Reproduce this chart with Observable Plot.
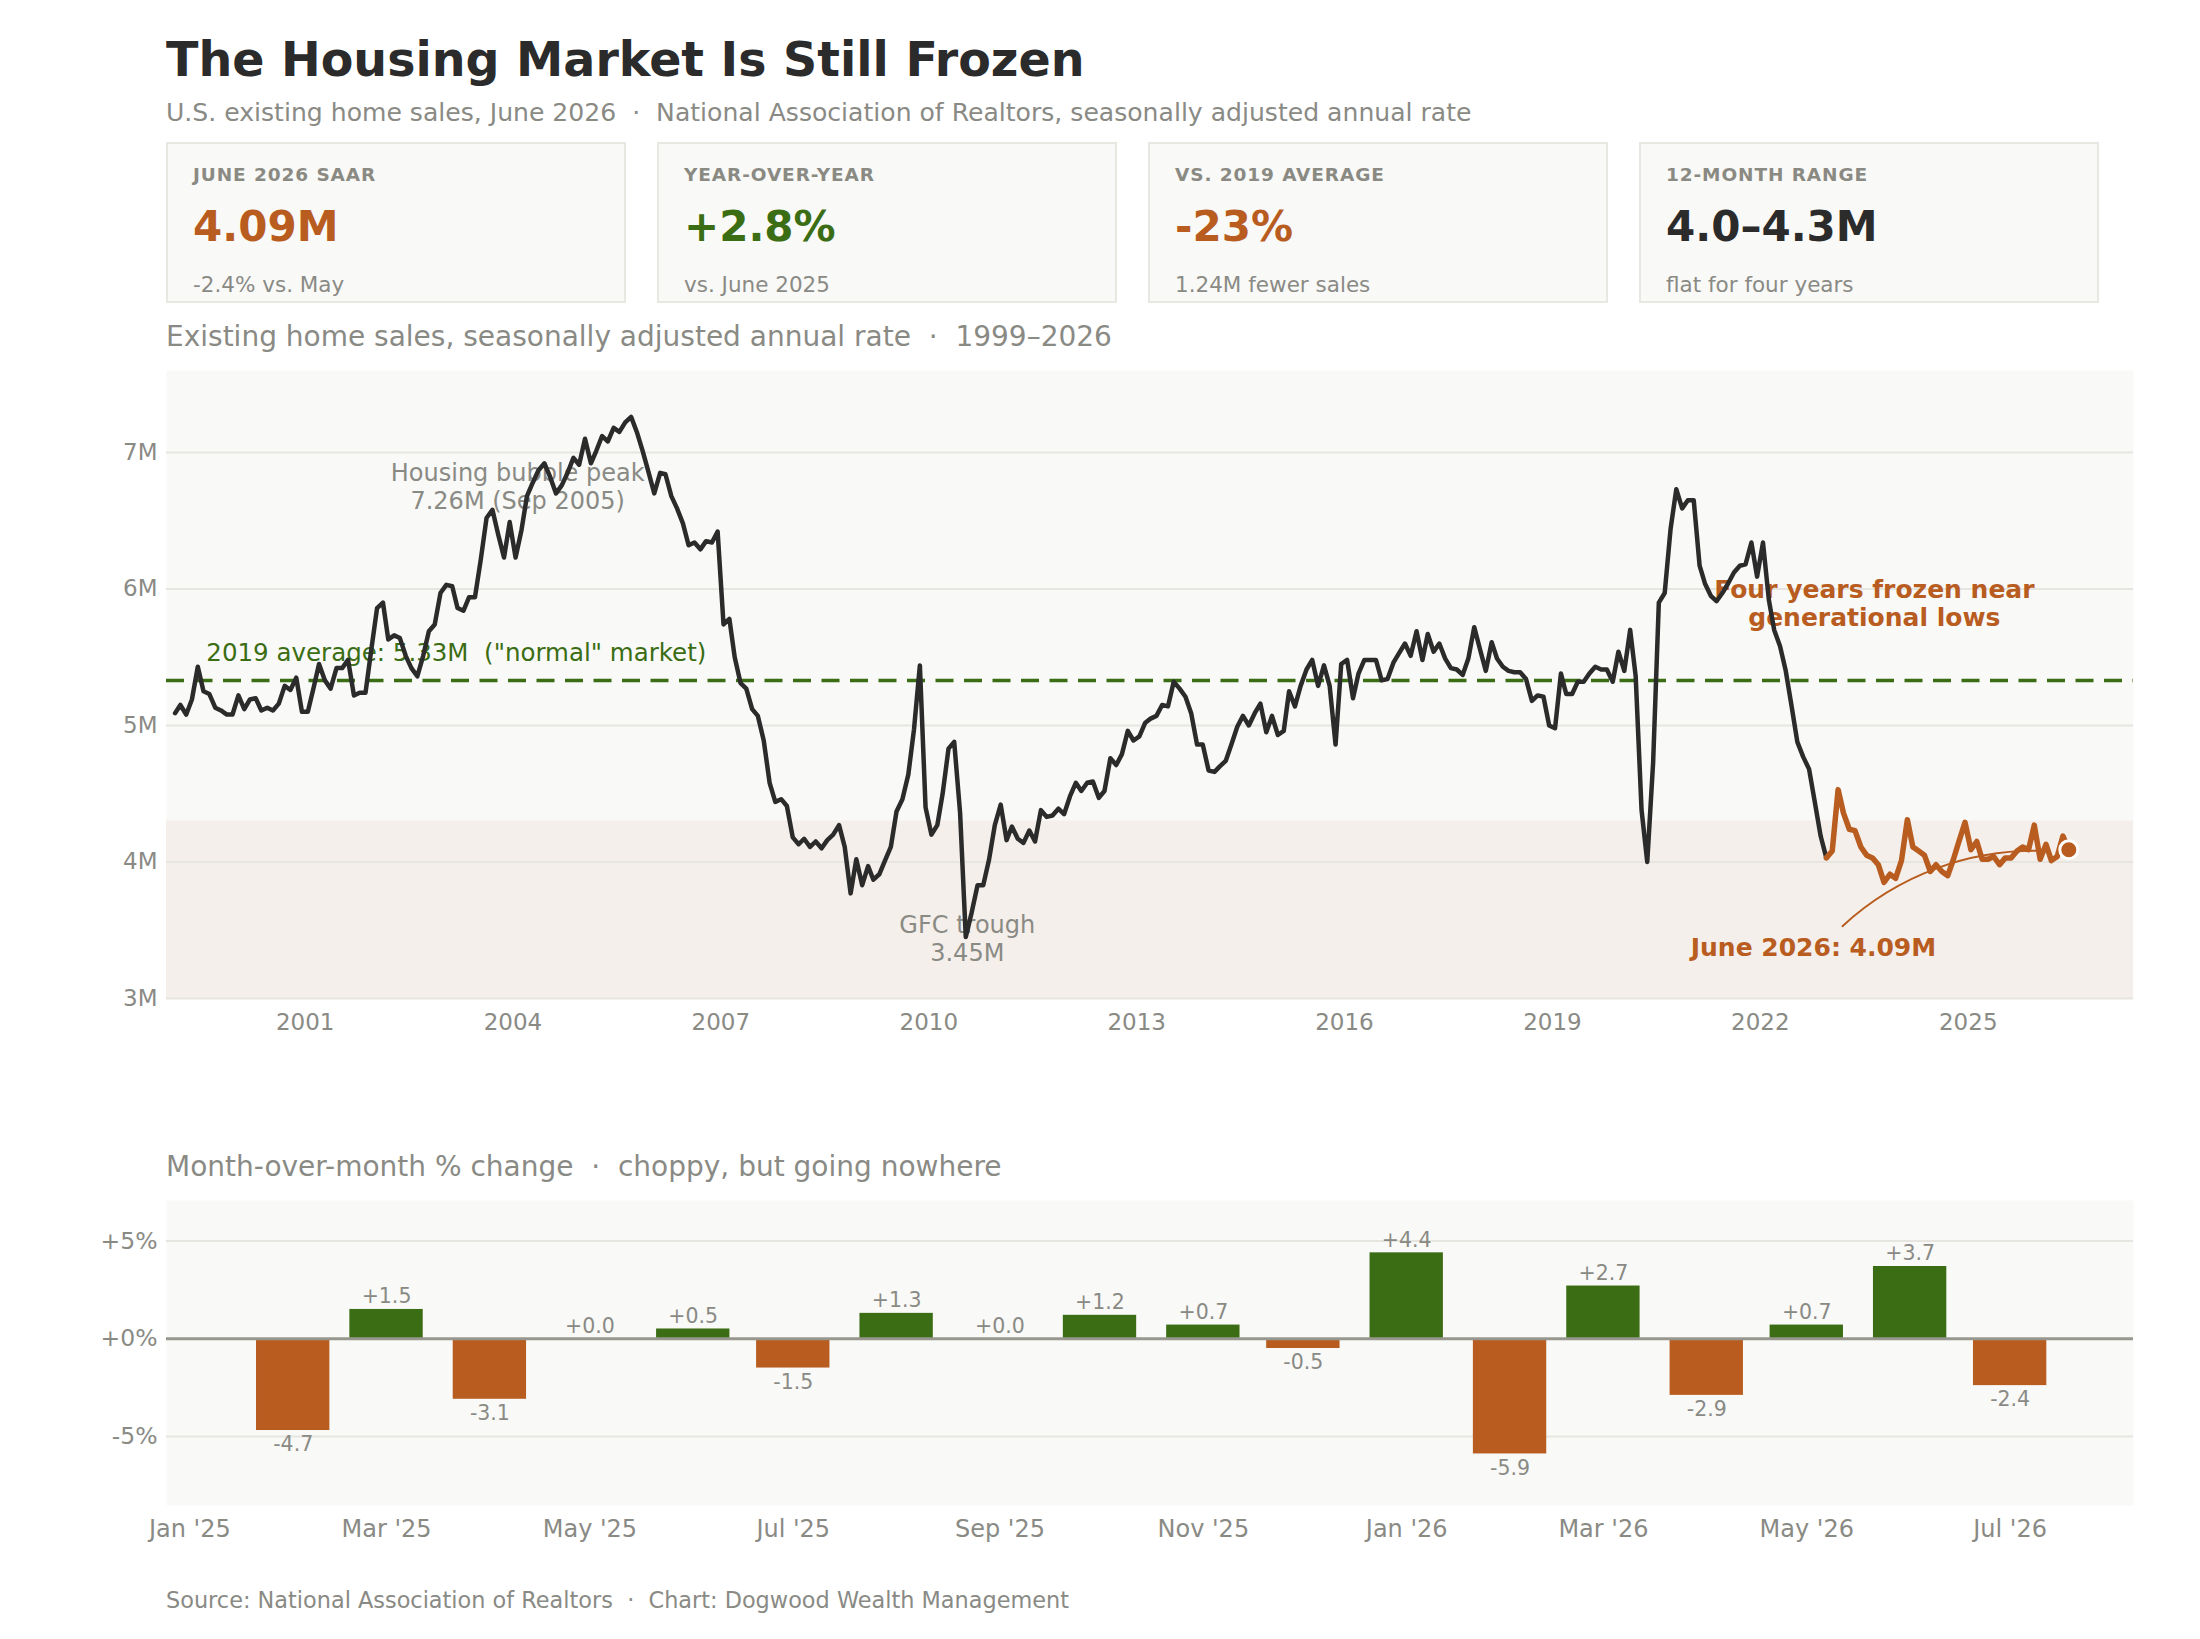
<!DOCTYPE html>
<html>
<head>
<meta charset="utf-8">
<script src="https://cdn.jsdelivr.net/npm/d3@7"></script>
<script src="https://cdn.jsdelivr.net/npm/@observablehq/plot@0.6"></script>
<style>
  html, body { margin: 0; padding: 0; background: #fff; }
  body { width: 2200px; height: 1639px; position: relative; overflow: hidden; font-family: "DejaVu Sans", sans-serif; }
  .abs { position: absolute; white-space: pre; line-height: 1; }
  #title { left: 166px; top: 36px; font-size: 47.5px; font-weight: bold; color: #2b2b2b; }
  #subtitle { left: 166px; top: 100px; font-size: 25.1px; color: #8a8a85; }
  .card { position: absolute; top: 142px; width: 460px; height: 161px; box-sizing: border-box; background: #f9f9f7; border: 2px solid #e8e7e2; }
  .card .lab { position: absolute; left: 25px; top: 22px; font-size: 18.5px; font-weight: bold; color: #8a8a83; letter-spacing: 0.9px; line-height: 1; white-space: pre; }
  .card .val { position: absolute; left: 25px; top: 62px; font-size: 42px; font-weight: bold; line-height: 1; white-space: pre; }
  .card .sub { position: absolute; left: 25px; top: 130px; font-size: 21.5px; color: #8a8a85; line-height: 1; white-space: pre; }
  #sec1 { left: 166px; top: 323px; font-size: 28px; color: #8a8a85; }
  #sec2 { left: 166px; top: 1153px; font-size: 28px; color: #8a8a85; }
  #source { left: 166px; top: 1589px; font-size: 22.4px; color: #8a8a85; }
  #main { position: absolute; left: 0; top: 355px; }
  #bars { position: absolute; left: 0; top: 1190px; }
</style>
</head>
<body>
<div id="title" class="abs"></div>
<div id="subtitle" class="abs"></div>
<div id="cards"></div>
<div id="sec1" class="abs"></div>
<div id="main"></div>
<div id="sec2" class="abs"></div>
<div id="bars"></div>
<div id="source" class="abs"></div>
<script>
// ---------- text ----------
const titleText = "The Housing Market Is Still Frozen";
const subtitleText = "U.S. existing home sales, June 2026  \u00b7  National Association of Realtors, seasonally adjusted annual rate";
const section1Text = "Existing home sales, seasonally adjusted annual rate  \u00b7  1999\u20132026";
const section2Text = "Month-over-month % change  \u00b7  choppy, but going nowhere";
const sourceText = "Source: National Association of Realtors  \u00b7  Chart: Dogwood Wealth Management";

// ---------- KPI cards ----------
const cardLabels = ["JUNE 2026 SAAR", "YEAR-OVER-YEAR", "VS. 2019 AVERAGE", "12-MONTH RANGE"];
const cardValues = ["4.09M", "+2.8%", "-23%", "4.0\u20134.3M"];
const cardNotes  = ["-2.4% vs. May", "vs. June 2025", "1.24M fewer sales", "flat for four years"];
const cardTone   = ["orange", "green", "orange", "ink"];

// ---------- monthly existing home sales, millions SAAR (Feb 1999 – Jun 2026) ----------
const firstMonth = "1999-02";
const monthlySales = [
  /*1999*/ 5.09, 5.15, 5.08, 5.19, 5.43, 5.25, 5.23, 5.13, 5.11, 5.08, 5.08,
  /*2000*/ 5.22, 5.12, 5.19, 5.20, 5.11, 5.13, 5.11, 5.16, 5.29, 5.26, 5.35, 5.10,
  /*2001*/ 5.10, 5.28, 5.45, 5.33, 5.27, 5.42, 5.42, 5.48, 5.22, 5.24, 5.24, 5.55,
  /*2002*/ 5.86, 5.90, 5.63, 5.66, 5.64, 5.51, 5.42, 5.36, 5.51, 5.69, 5.74, 5.97,
  /*2003*/ 6.03, 6.02, 5.86, 5.84, 5.94, 5.94, 6.21, 6.52, 6.58, 6.40, 6.23, 6.49,
  /*2004*/ 6.23, 6.43, 6.68, 6.78, 6.87, 6.92, 6.82, 6.70, 6.76, 6.85, 6.96, 6.91,
  /*2005*/ 7.10, 6.92, 7.01, 7.12, 7.08, 7.18, 7.15, 7.22, 7.26, 7.15, 7.01, 6.86,
  /*2006*/ 6.70, 6.85, 6.84, 6.68, 6.59, 6.48, 6.32, 6.34, 6.29, 6.35, 6.34, 6.42,
  /*2007*/ 5.74, 5.78, 5.50, 5.31, 5.27, 5.12, 5.07, 4.89, 4.58, 4.44, 4.46, 4.41,
  /*2008*/ 4.18, 4.13, 4.17, 4.11, 4.15, 4.10, 4.16, 4.20, 4.27, 4.11, 3.77, 4.02,
  /*2009*/ 3.83, 3.97, 3.87, 3.91, 4.01, 4.11, 4.37, 4.46, 4.64, 4.97, 5.44, 4.40,
  /*2010*/ 4.20, 4.27, 4.50, 4.83, 4.88, 4.36, 3.45, 3.63, 3.83, 3.83, 4.02, 4.27,
  /*2011*/ 4.42, 4.16, 4.26, 4.17, 4.14, 4.23, 4.15, 4.38, 4.33, 4.34, 4.39, 4.35,
  /*2012*/ 4.48, 4.58, 4.52, 4.58, 4.59, 4.47, 4.52, 4.76, 4.71, 4.79, 4.96, 4.89,
  /*2013*/ 4.92, 5.02, 5.05, 5.07, 5.15, 5.14, 5.32, 5.27, 5.21, 5.09, 4.86, 4.86,
  /*2014*/ 4.67, 4.66, 4.70, 4.74, 4.86, 4.99, 5.07, 5.00, 5.09, 5.16, 4.95, 5.07,
  /*2015*/ 4.93, 4.96, 5.25, 5.14, 5.29, 5.41, 5.48, 5.29, 5.44, 5.29, 4.86, 5.45,
  /*2016*/ 5.48, 5.20, 5.38, 5.48, 5.48, 5.48, 5.33, 5.34, 5.46, 5.53, 5.60, 5.51,
  /*2017*/ 5.69, 5.48, 5.67, 5.54, 5.60, 5.49, 5.42, 5.41, 5.37, 5.49, 5.72, 5.56,
  /*2018*/ 5.40, 5.61, 5.49, 5.43, 5.40, 5.39, 5.39, 5.34, 5.18, 5.22, 5.21, 5.00,
  /*2019*/ 4.98, 5.38, 5.23, 5.23, 5.32, 5.32, 5.38, 5.43, 5.41, 5.41, 5.32, 5.54,
  /*2020*/ 5.40, 5.70, 5.36, 4.38, 4.00, 4.73, 5.90, 5.97, 6.44, 6.73, 6.59, 6.65,
  /*2021*/ 6.65, 6.17, 6.04, 5.95, 5.91, 5.97, 6.04, 6.12, 6.17, 6.18, 6.34, 6.09,
  /*2022*/ 6.34, 5.92, 5.70, 5.58, 5.40, 5.14, 4.88, 4.77, 4.68, 4.44, 4.19, 4.03,
  /*2023*/ 4.08, 4.53, 4.36, 4.24, 4.23, 4.11, 4.05, 4.03, 3.98, 3.85, 3.91, 3.88,
  /*2024*/ 4.01, 4.31, 4.11, 4.08, 4.05, 3.93, 3.98, 3.93, 3.90, 4.02, 4.16, 4.29,
  /*2025*/ 4.09, 4.15, 4.02, 4.02, 4.04, 3.98, 4.03, 4.03, 4.08, 4.11, 4.09, 4.27,
  /*2026*/ 4.02, 4.13, 4.01, 4.04, 4.19, 4.09
];
const frozenFrom = "2022-12";          // start of highlighted "frozen" stretch
const avg2019 = 5.33;                  // reference line
const lowBand = [3, 4.3];              // shaded low-sales band
const salesTicks = [3, 4, 5, 6, 7];
const yearTicks = [2001, 2004, 2007, 2010, 2013, 2016, 2019, 2022, 2025];

// ---------- month-over-month % change ----------
const momMonths = ["2025-02","2025-03","2025-04","2025-05","2025-06","2025-07","2025-08","2025-09","2025-10",
                   "2025-11","2025-12","2026-01","2026-02","2026-03","2026-04","2026-05","2026-06","2026-07"];
const momValues = [-4.7, 1.5, -3.1, 0.0, 0.5, -1.5, 1.3, 0.0, 1.2, 0.7, -0.5, 4.4, -5.9, 2.7, -2.9, 0.7, 3.7, -2.4];
const momTickMonths = ["2025-01","2025-03","2025-05","2025-07","2025-09","2025-11","2026-01","2026-03","2026-05","2026-07"];
const momTicks = [-5, 0, 5];

// ---------- annotations (data coordinates) ----------
const notes = [
  {date: "2004-01-26", value: 6.755, text: "Housing bubble peak\n7.26M (Sep 2005)", tone: "grey"},
  {date: "2010-07-23", value: 3.445, text: "GFC trough\n3.45M", tone: "grey"},
  {date: "2023-08-25", value: 5.90, text: "Four years frozen near\ngenerational lows", tone: "orange"},
  {date: "2022-10-08", value: 3.38, text: "June 2026: 4.09M", tone: "orange"},
  {date: "1999-07-30", value: 5.526, text: "2019 average: 5.33M\u00a0 (\"normal\" market)", tone: "green"}
];
const pointer = {from: "2023-03-10", fromValue: 3.53, to: "2026-02-13", toValue: 4.08};

// ---------- styles ----------
const C = {ink: "#2b2b2b", grey: "#8a8a85", green: "#3b6d14", orange: "#b85c1f",
           panel: "#f9f9f7", band: "#f4efea", grid: "#e6e5e0", zero: "#97978f"};

// ---------- HTML text ----------
document.getElementById("title").textContent = titleText;
document.getElementById("subtitle").textContent = subtitleText;
document.getElementById("sec1").textContent = section1Text;
document.getElementById("sec2").textContent = section2Text;
document.getElementById("source").textContent = sourceText;
const cardsEl = document.getElementById("cards");
cardLabels.forEach((lab, i) => {
  const c = document.createElement("div");
  c.className = "card";
  c.style.left = (166 + i * 491) + "px";
  c.innerHTML = `<div class="lab"></div><div class="val"></div><div class="sub"></div>`;
  c.querySelector(".lab").textContent = lab;
  const v = c.querySelector(".val");
  v.textContent = cardValues[i];
  v.style.color = C[cardTone[i]];
  c.querySelector(".sub").textContent = cardNotes[i];
  cardsEl.appendChild(c);
});

// ---------- data tables ----------
const parseMonth = d3.utcParse("%Y-%m");
const parseDay = d3.utcParse("%Y-%m-%d");
const start = parseMonth(firstMonth);
const series = monthlySales.map((v, i) => ({date: d3.utcDay.offset(d3.utcMonth.offset(start, i), 14), value: v}));
const frozenDate = d3.utcDay.offset(parseMonth(frozenFrom), 14);
const before = series.filter(d => d.date <= frozenDate);
const frozen = series.filter(d => d.date >= frozenDate);
const latest = series[series.length - 1];
const noteRows = notes.map(n => ({...n, date: parseDay(n.date)}));
const xDomain = [Date.UTC(1999, 0, 1), Date.UTC(2027, 4, 22)];

const mainChart = Plot.plot({
  width: 2200, height: 695,
  marginTop: 15, marginBottom: 52, marginLeft: 166, marginRight: 67,
  style: {fontFamily: "DejaVu Sans", fontSize: "23px", color: C.grey, background: "transparent"},
  x: {type: "utc", domain: xDomain, label: null},
  y: {domain: [3, 7.6], label: null},
  marks: [
    Plot.frame({fill: C.panel, stroke: "none"}),
    Plot.rect([lowBand], {x1: () => xDomain[0], x2: () => xDomain[1], y1: d => d[0], y2: d => d[1], fill: C.band}),
    Plot.ruleY(salesTicks, {stroke: C.grid, strokeWidth: 2}),
    Plot.axisY({ticks: salesTicks, tickFormat: d => d + "M", tickSize: 0, tickPadding: 9, fontSize: 23, label: null}),
    Plot.axisX({ticks: yearTicks.map(y => new Date(Date.UTC(y, 0, 1))), tickFormat: d3.utcFormat("%Y"), tickSize: 0, tickPadding: 15, fontSize: 23, label: null}),
    Plot.ruleY([avg2019], {stroke: C.green, strokeWidth: 3.5, strokeDasharray: "18,10.5"}),
    Plot.text(noteRows.filter(n => n.tone === "grey"), {x: "date", y: "value", text: "text", fill: C.grey, fontSize: 24, lineHeight: 1.17, textAnchor: "middle", lineAnchor: "middle"}),
    Plot.text(noteRows.filter(n => n.tone === "green"), {x: "date", y: "value", text: "text", fill: C.green, fontSize: 24.5, textAnchor: "start", lineAnchor: "middle"}),
    Plot.text(noteRows.filter(n => n.tone === "orange"), {x: "date", y: "value", text: "text", fill: C.orange, fontSize: 25, fontWeight: "bold", lineHeight: 1.12, textAnchor: "middle", lineAnchor: "middle"}),
    Plot.lineY(before, {x: "date", y: "value", stroke: C.ink, strokeWidth: 4.5}),
    Plot.lineY(frozen, {x: "date", y: "value", stroke: C.orange, strokeWidth: 5.5}),
    Plot.arrow([pointer], {x1: d => parseDay(d.from), y1: "fromValue", x2: d => parseDay(d.to), y2: "toValue", bend: 22.5, stroke: C.orange, strokeWidth: 2, headLength: 0}),
    Plot.dot([latest], {x: "date", y: "value", r: 9, fill: C.orange, stroke: "white", strokeWidth: 3})
  ]
});
document.getElementById("main").appendChild(mainChart);

// ---------- bar chart ----------
const mom = momMonths.map((m, i) => ({date: parseMonth(m), value: momValues[i]}));
const fmt = v => (v >= 0 ? "+" : "") + v.toFixed(1);
const barChart = Plot.plot({
  width: 2200, height: 365,
  marginTop: 10, marginBottom: 50, marginLeft: 166, marginRight: 67,
  style: {fontFamily: "DejaVu Sans", fontSize: "24px", color: C.grey, background: "transparent"},
  x: {type: "utc", domain: [Date.UTC(2024, 11, 25), Date.UTC(2026, 7, 7)], label: null},
  y: {domain: [-8.54, 7.08], label: null},
  marks: [
    Plot.frame({fill: C.panel, stroke: "none"}),
    Plot.ruleY(momTicks.filter(t => t !== 0), {stroke: C.grid, strokeWidth: 2}),
    Plot.axisY({ticks: momTicks, tickFormat: d => (d >= 0 ? "+" : "") + d + "%", tickSize: 0, tickPadding: 9, fontSize: 23.5, label: null}),
    Plot.axisX({ticks: momTickMonths.map(parseMonth), tickFormat: d3.utcFormat("%b '%y"), tickSize: 0, tickPadding: 14, fontSize: 24, label: null}),
    Plot.rect(mom, {x1: d => d3.utcDay.offset(d.date, -11), x2: d => d3.utcDay.offset(d.date, 11), y1: () => 0, y2: "value",
                    fill: d => d.value >= 0 ? C.green : C.orange}),
    Plot.ruleY([0], {stroke: C.zero, strokeWidth: 3}),
    Plot.text(mom.filter(d => d.value >= 0), {x: "date", y: "value", text: d => fmt(d.value), fill: C.grey, fontSize: 20.5, lineAnchor: "bottom", dy: -6}),
    Plot.text(mom.filter(d => d.value < 0), {x: "date", y: "value", text: d => fmt(d.value), fill: C.grey, fontSize: 20.5, lineAnchor: "top", dy: 6})
  ]
});
document.getElementById("bars").appendChild(barChart);
</script>
</body>
</html>
